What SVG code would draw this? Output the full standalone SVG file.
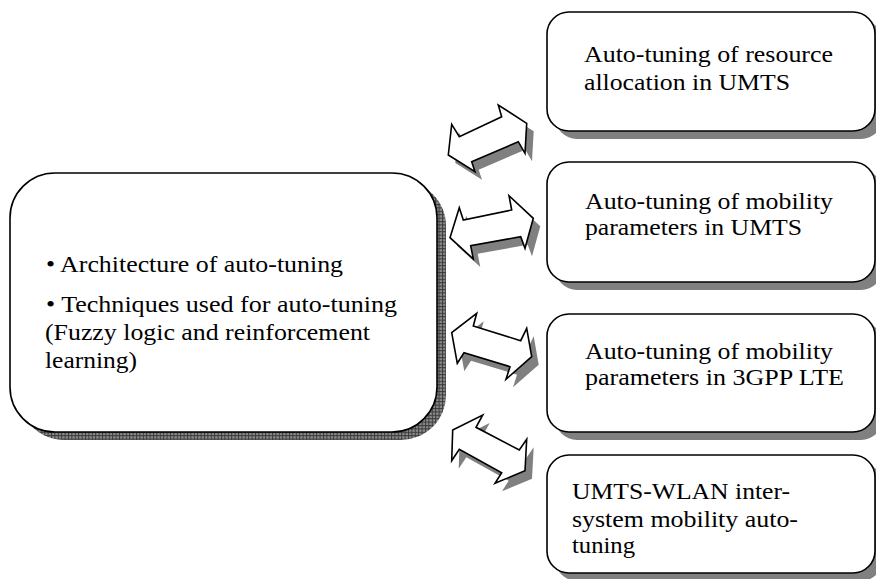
<svg xmlns="http://www.w3.org/2000/svg" width="876" height="579" viewBox="0 0 876 579">
<defs>
<pattern id="hatch" width="3.4" height="3.4" patternUnits="userSpaceOnUse">
<rect width="3.4" height="3.4" fill="#8c8c8c"/>
<path d="M0 0.5H3.4M0.5 0V3.4" stroke="#3a3a3a" stroke-width="1"/>
</pattern>
</defs>
<style>
.box{fill:#fff;stroke:#000;stroke-width:1.6}
.sh{fill:#808080;stroke:none}
.arr{fill:#fff;stroke:#000;stroke-width:1.6;stroke-linejoin:miter}
.t{font-family:"Liberation Serif","Times New Roman",serif;font-size:24px;fill:#000}
</style>
<rect width="876" height="579" fill="#fff"/>
<g id="main">
<rect x="19" y="181" width="427" height="259" rx="45" fill="url(#hatch)"/>
<rect class="box" x="10" y="173" width="427" height="259" rx="45"/>
<text class="t" x="46" y="272" textLength="297" lengthAdjust="spacingAndGlyphs">• Architecture of auto-tuning</text>
<text class="t" x="46" y="312" textLength="351" lengthAdjust="spacingAndGlyphs">• Techniques used for auto-tuning</text>
<text class="t" x="45" y="340" textLength="325" lengthAdjust="spacingAndGlyphs">(Fuzzy logic and reinforcement</text>
<text class="t" x="45" y="368" textLength="92" lengthAdjust="spacingAndGlyphs">learning)</text>
</g>
<g id="box1">
<rect class="sh" x="555" y="20" width="328" height="119" rx="22"/>
<rect class="box" x="547" y="12" width="328" height="119" rx="22"/>
<text class="t" x="584" y="62" textLength="249" lengthAdjust="spacingAndGlyphs">Auto-tuning of resource</text>
<text class="t" x="584" y="90" textLength="206" lengthAdjust="spacingAndGlyphs">allocation in UMTS</text>
</g>
<g id="box2">
<rect class="sh" x="555" y="170" width="328" height="120" rx="22"/>
<rect class="box" x="547" y="162" width="328" height="120" rx="22"/>
<text class="t" x="585" y="209" textLength="248" lengthAdjust="spacingAndGlyphs">Auto-tuning of mobility</text>
<text class="t" x="585" y="235" textLength="217" lengthAdjust="spacingAndGlyphs">parameters in UMTS</text>
</g>
<g id="box3">
<rect class="sh" x="555" y="322" width="328" height="118" rx="22"/>
<rect class="box" x="547" y="314" width="328" height="118" rx="22"/>
<text class="t" x="585" y="359" textLength="248" lengthAdjust="spacingAndGlyphs">Auto-tuning of mobility</text>
<text class="t" x="585" y="385" textLength="259" lengthAdjust="spacingAndGlyphs">parameters in 3GPP LTE</text>
</g>
<g id="box4">
<rect class="sh" x="555" y="463" width="328" height="118" rx="22"/>
<rect class="box" x="547" y="455" width="328" height="118" rx="22"/>
<text class="t" x="572" y="499" textLength="218" lengthAdjust="spacingAndGlyphs">UMTS-WLAN inter-</text>
<text class="t" x="572" y="527" textLength="226" lengthAdjust="spacingAndGlyphs">system mobility auto-</text>
<text class="t" x="572" y="553" textLength="63" lengthAdjust="spacingAndGlyphs">tuning</text>
</g>
<g id="connectors">
<g id="arrow1">
<polygon class="sh" transform="translate(7,8)" points="451.7,124.3 459.3,136.7 501.7,116.7 498.3,105 526.7,123.3 525,153.3 518.3,141.7 471.7,161.7 475,171.7 448.3,155"/>
<polygon class="arr" points="451.7,124.3 459.3,136.7 501.7,116.7 498.3,105 526.7,123.3 525,153.3 518.3,141.7 471.7,161.7 475,171.7 448.3,155"/>
</g>
<g id="arrow2">
<polygon class="sh" transform="translate(7,8)" points="459.3,207.7 463.3,220 511.7,210 509,195.7 533.3,218.3 525,248.3 520.7,236.7 470.7,245.7 473.3,259 450,237.7"/>
<polygon class="arr" points="459.3,207.7 463.3,220 511.7,210 509,195.7 533.3,218.3 525,248.3 520.7,236.7 470.7,245.7 473.3,259 450,237.7"/>
</g>
<g id="arrow3">
<polygon class="sh" transform="translate(7,8)" points="476.7,313.3 473.3,326 520.7,340.7 526.7,328.3 531.7,356.7 506,379.3 510,366.7 464,352.7 457.3,363.3 451.7,332.7"/>
<polygon class="arr" points="476.7,313.3 473.3,326 520.7,340.7 526.7,328.3 531.7,356.7 506,379.3 510,366.7 464,352.7 457.3,363.3 451.7,332.7"/>
</g>
<g id="arrow4">
<polygon class="sh" transform="translate(7,8)" points="482.7,415 476,427.3 519.3,450 526.7,439.3 525,470.7 495,483.3 501.7,472.7 459.3,449.3 451.7,460.7 452.7,430"/>
<polygon class="arr" points="482.7,415 476,427.3 519.3,450 526.7,439.3 525,470.7 495,483.3 501.7,472.7 459.3,449.3 451.7,460.7 452.7,430"/>
</g>
</g>
</svg>
